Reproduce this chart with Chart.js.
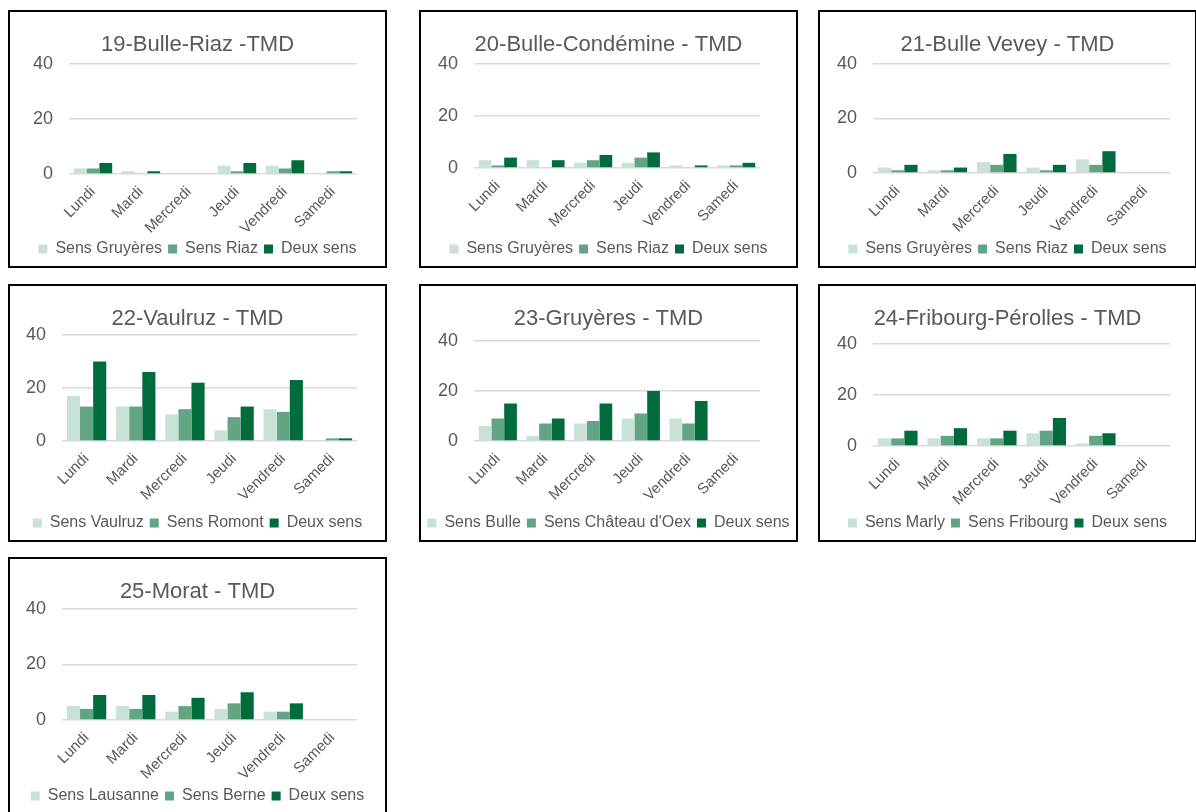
<!DOCTYPE html>
<html>
<head>
<meta charset="utf-8">
<script src="https://cdn.jsdelivr.net/npm/chart.js@4.4.1/dist/chart.umd.min.js"></script>
<style>
body { margin: 0; background: #fff; width: 1196px; height: 812px; overflow: hidden; position: relative; }
.panel { position: absolute; width: 375px; height: 254px; border: 2px solid #000; background: #fff; }
.panel canvas { display: block; }
</style>
</head>
<body>
<script>
// categories and axis
var days = ['Lundi', 'Mardi', 'Mercredi', 'Jeudi', 'Vendredi', 'Samedi'];
var yTicks = [0, 20, 40];

// 19-Bulle-Riaz
var bulleRiazGruyeres = [2, 1, 0, 3, 3, 0];
var bulleRiazRiaz     = [2, 0, 0, 1, 2, 1];
var bulleRiazDeux     = [4, 1, 0, 4, 5, 1];

// 20-Bulle-Condémine
var condemineGruyeres = [3, 3, 2, 2, 1, 1];
var condemineRiaz     = [1, 0, 3, 4, 0, 1];
var condemineDeux     = [4, 3, 5, 6, 1, 2];

// 21-Bulle Vevey
var veveyGruyeres = [2, 1, 4, 2, 5, 0];
var veveyRiaz     = [1, 1, 3, 1, 3, 0];
var veveyDeux     = [3, 2, 7, 3, 8, 0];

// 22-Vaulruz
var vaulruzVaulruz = [17, 13, 10, 4, 12, 0];
var vaulruzRomont  = [13, 13, 12, 9, 11, 1];
var vaulruzDeux    = [30, 26, 22, 13, 23, 1];

// 23-Gruyères
var gruyeresBulle   = [6, 2, 7, 9, 9, 0];
var gruyeresChateau = [9, 7, 8, 11, 7, 0];
var gruyeresDeux    = [15, 9, 15, 20, 16, 0];

// 24-Fribourg-Pérolles
var perollesMarly    = [3, 3, 3, 5, 1, 0];
var perollesFribourg = [3, 4, 3, 6, 4, 0];
var perollesDeux     = [6, 7, 6, 11, 5, 0];

// 25-Morat
var moratLausanne = [5, 5, 3, 4, 3, 0];
var moratBerne    = [4, 4, 5, 6, 3, 0];
var moratDeux     = [9, 9, 8, 10, 6, 0];

var colors = ['#C8E2D6', '#62A584', '#006B3C'];
var textColor = '#595959';
var fontFamily = '"Liberation Sans", Arial, sans-serif';

// box = plot area inside the panel (left width, right gap, top gridline, zero line)
function makeChart(px, py, box, title, names, series) {
	var div = document.createElement('div');
	div.className = 'panel';
	div.style.left = px + 'px';
	div.style.top = py + 'px';
	var cv = document.createElement('canvas');
	cv.width = 375;
	cv.height = 254;
	div.appendChild(cv);
	document.body.appendChild(div);

	var legendPad = 6;
	var bottomPad = -1;
	var legendTop = 254 - bottomPad - (16 + legendPad + 10);

	new Chart(cv.getContext('2d'), {
		type: 'bar',
		data: {
			labels: days,
			datasets: names.map(function (n, i) {
				return {
					label: n,
					data: series[i],
					backgroundColor: colors[i],
					borderWidth: 0,
					barPercentage: 1,
					categoryPercentage: 0.8
				};
			})
		},
		options: {
			responsive: false,
			animation: false,
			layout: { padding: { left: 0, right: 0, top: 0, bottom: bottomPad } },
			plugins: {
				tooltip: { enabled: false },
				title: {
					display: true,
					text: title,
					color: textColor,
					font: { family: fontFamily, size: 22, weight: 'normal' },
					padding: { top: 20, bottom: box.top - 20 - 26.4 }
				},
				legend: {
					position: 'bottom',
					labels: {
						color: textColor,
						font: { family: fontFamily, size: 16 },
						boxWidth: 9,
						boxHeight: 9,
						padding: legendPad
					}
				}
			},
			scales: {
				x: {
					grid: { display: false },
					border: { display: false },
					ticks: {
						color: textColor,
						font: { family: fontFamily, size: 15 },
						minRotation: 45,
						maxRotation: 45,
						autoSkip: false,
						padding: 1
					},
					afterFit: function (s) { s.height = legendTop - box.zero; }
				},
				y: {
					min: yTicks[0],
					max: yTicks[yTicks.length - 1],
					afterBuildTicks: function (s) { s.ticks = yTicks.map(function (v) { return { value: v }; }); },
					grid: { color: '#D9D9D9', lineWidth: 1.5, drawTicks: false },
					border: { display: false },
					ticks: {
						color: textColor,
						font: { family: fontFamily, size: 18 },
						padding: 16
					},
					afterFit: function (s) { s.width = box.left; }
				},
				// empty right axis, only keeps the gap right of the plot
				pad: {
					type: 'linear',
					position: 'right',
					grid: { display: false },
					border: { display: false },
					ticks: { display: false },
					afterFit: function (s) { s.width = box.right; }
				}
			}
		}
	});
}

makeChart(8, 10, { left: 59, right: 28, top: 52, zero: 162 }, '19-Bulle-Riaz -TMD',
	['Sens Gruyères', 'Sens Riaz', 'Deux sens'], [bulleRiazGruyeres, bulleRiazRiaz, bulleRiazDeux]);
makeChart(419, 10, { left: 53, right: 36, top: 52, zero: 156 }, '20-Bulle-Condémine - TMD',
	['Sens Gruyères', 'Sens Riaz', 'Deux sens'], [condemineGruyeres, condemineRiaz, condemineDeux]);
makeChart(818, 10, { left: 53, right: 25, top: 52, zero: 161 }, '21-Bulle Vevey - TMD',
	['Sens Gruyères', 'Sens Riaz', 'Deux sens'], [veveyGruyeres, veveyRiaz, veveyDeux]);
makeChart(8, 284, { left: 52, right: 28, top: 49, zero: 155 }, '22-Vaulruz - TMD',
	['Sens Vaulruz', 'Sens Romont', 'Deux sens'], [vaulruzVaulruz, vaulruzRomont, vaulruzDeux]);
makeChart(419, 284, { left: 53, right: 36, top: 55, zero: 155 }, '23-Gruyères - TMD',
	['Sens Bulle', "Sens Château d'Oex", 'Deux sens'], [gruyeresBulle, gruyeresChateau, gruyeresDeux]);
makeChart(818, 284, { left: 53, right: 25, top: 58, zero: 160 }, '24-Fribourg-Pérolles - TMD',
	['Sens Marly', 'Sens Fribourg', 'Deux sens'], [perollesMarly, perollesFribourg, perollesDeux]);
makeChart(8, 557, { left: 52, right: 28, top: 50, zero: 161 }, '25-Morat - TMD',
	['Sens Lausanne', 'Sens Berne', 'Deux sens'], [moratLausanne, moratBerne, moratDeux]);
</script>
</body>
</html>
